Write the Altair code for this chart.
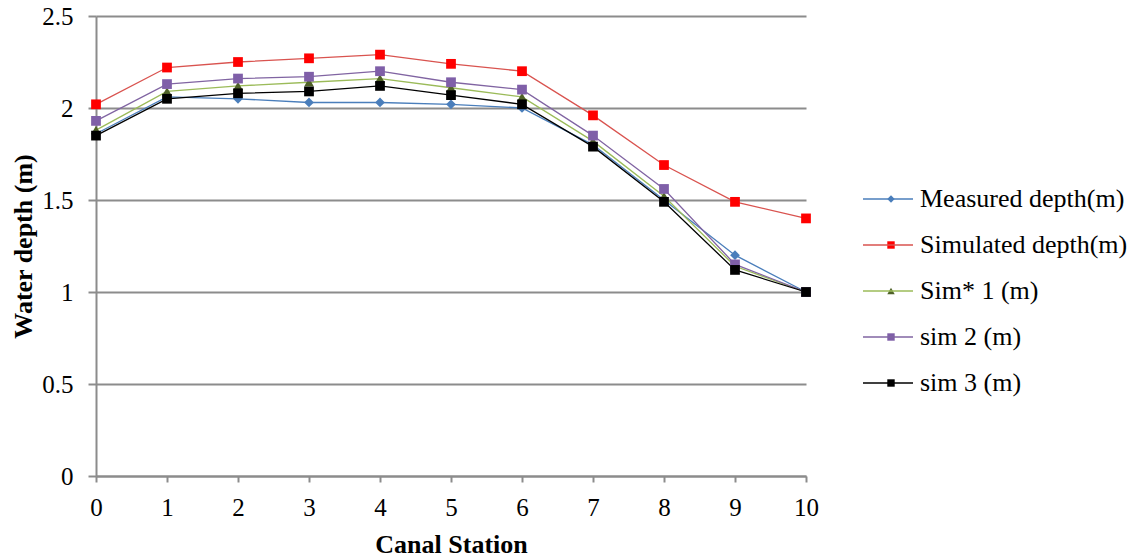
import altair as alt
import pandas as pd

stations = [0, 1, 2, 3, 4, 5, 6, 7, 8, 9, 10]
series_names = ["Measured depth(m)", "Simulated depth(m)", "Sim* 1 (m)", "sim 2 (m)", "sim 3 (m)"]
measured = [1.86, 2.06, 2.05, 2.03, 2.03, 2.02, 2.00, 1.80, 1.50, 1.20, 1.00]
simulated = [2.02, 2.22, 2.25, 2.27, 2.29, 2.24, 2.20, 1.96, 1.69, 1.49, 1.40]
sim1 = [1.88, 2.09, 2.12, 2.14, 2.16, 2.11, 2.06, 1.82, 1.52, 1.14, 1.00]
sim2 = [1.93, 2.13, 2.16, 2.17, 2.20, 2.14, 2.10, 1.85, 1.56, 1.15, 1.00]
sim3 = [1.85, 2.05, 2.08, 2.09, 2.12, 2.07, 2.02, 1.79, 1.49, 1.12, 1.00]

line_colors = ["#4A7EBB", "#D9534F", "#9BBB59", "#8064A2", "#000000"]
marker_colors = ["#4A7EBB", "#FF0000", "#4F6228", "#7F5FA8", "#000000"]
marker_shapes = ["diamond", "square", "triangle-up", "square", "square"]

rows = []
for i, (name, vals) in enumerate(zip(series_names, [measured, simulated, sim1, sim2, sim3])):
    for s, v in zip(stations, vals):
        rows.append({"series": name, "order": i, "station": s, "depth": v})
df = pd.DataFrame(rows)

FONT = "Liberation Serif"
GRID = "#8C8C8C"
TICK_FS = 25
TITLE_FS = 26
LEG_FS = 26

base = alt.Chart(df).encode(
    x=alt.X("station:Q", scale=alt.Scale(domain=[0, 10], nice=False),
            axis=alt.Axis(title="Canal Station", values=stations, format="d", grid=False,
                          labelFlush=False, labelOverlap=False,
                          domainColor=GRID, domainWidth=2, tickColor=GRID, tickWidth=2, tickSize=6,
                          labelFont=FONT, labelFontSize=TICK_FS, labelPadding=13, labelColor="black",
                          titleFont=FONT, titleFontSize=TITLE_FS, titleFontWeight="bold",
                          titlePadding=11, titleColor="black")),
    y=alt.Y("depth:Q", scale=alt.Scale(domain=[0, 2.5], nice=False),
            axis=alt.Axis(title="Water depth (m)", values=[0, 0.5, 1, 1.5, 2, 2.5], format=".1~f",
                          grid=True, gridColor=GRID, gridWidth=2, labelFlush=False,
                          domainColor=GRID, domainWidth=2, tickColor=GRID, tickWidth=2, tickSize=8,
                          labelFont=FONT, labelFontSize=TICK_FS, labelPadding=15, labelColor="black",
                          titleFont=FONT, titleFontSize=TITLE_FS, titleFontWeight="bold",
                          titlePadding=5, titleColor="black")),
)

lines = base.mark_line(strokeWidth=1.3).encode(
    stroke=alt.Stroke("series:N", scale=alt.Scale(domain=series_names, range=line_colors),
                      legend=alt.Legend(title=None, orient="none", legendX=766, legendY=157,
                                        symbolType="stroke", symbolSize=2500, symbolStrokeWidth=1.5,
                                        labelFontSize=LEG_FS, labelFont=FONT, labelColor="black",
                                        labelLimit=400, labelOffset=6, rowPadding=7, padding=0)),
    detail="series:N",
    order="order:Q",
)

# marker-only legend laid over the line legend (labels left empty)
pt_legend = alt.Legend(title=None, orient="none", legendX=782, legendY=170,
                       symbolSize=55, labelFontSize=LEG_FS, labelFont=FONT, labelExpr="''",
                       labelColor="transparent", labelOffset=28, rowPadding=20, padding=0)

points = base.mark_point(filled=True, opacity=1, size=95).encode(
    fill=alt.Fill("series:N", scale=alt.Scale(domain=series_names, range=marker_colors), legend=pt_legend),
    shape=alt.Shape("series:N", scale=alt.Scale(domain=series_names, range=marker_shapes), legend=pt_legend),
    order="order:Q",
)

chart = alt.layer(lines, points).resolve_scale(stroke="independent").properties(
    width=710, height=460,
    autosize=alt.AutoSizeParams(type="none"),
    padding={"left": 96, "top": 16, "right": 331, "bottom": 84},
).configure(font=FONT).configure_view(stroke=None)

chart.save("out.html", embed_options={"renderer": "svg", "actions": False})
